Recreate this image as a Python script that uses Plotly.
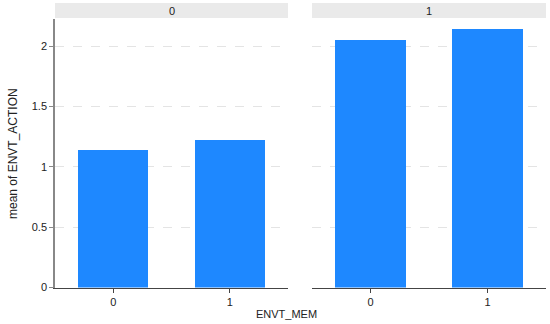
import plotly.graph_objects as go

categories = ["0", "1"]
panels = ["0", "1"]
values_panel0 = [1.138, 1.221]
values_panel1 = [2.056, 2.139]
y_ticks = [0, 0.5, 1, 1.5, 2]
y_tick_labels = ["0", "0.5", "1", "1.5", "2"]

W, H = 550, 324
bar_color = "#1E88FF"
font = dict(family="Liberation Sans, Arial, sans-serif", size=11, color="#222222")

fig = go.Figure()
fig.add_trace(go.Bar(x=[0, 1], y=values_panel0, xaxis="x", yaxis="y",
                     marker=dict(color=bar_color, line=dict(width=0)), width=0.6))
fig.add_trace(go.Bar(x=[0, 1], y=values_panel1, xaxis="x2", yaxis="y2",
                     marker=dict(color=bar_color, line=dict(width=0)), width=0.6))

left_dom = [55 / W, 288 / W]
right_dom = [312 / W, 546 / W]
y_dom = [1 - 287.5 / H, 1 - 19 / H]
yrange = [0, 2.226]

xcommon = dict(range=[-0.5, 1.5], tickvals=[0, 1], ticktext=categories,
               showline=True, linecolor="#444444", linewidth=1.2, showgrid=False,
               ticks="outside", ticklen=4, tickcolor="#444444", zeroline=False,
               tickfont=font, automargin=False)
ycommon = dict(range=yrange, tickvals=y_ticks, ticktext=y_tick_labels,
               showgrid=True, gridcolor="#E4E4E4", griddash="dash", gridwidth=1,
               zeroline=False, tickfont=font, automargin=False)

fig.update_layout(
    width=W, height=H,
    margin=dict(l=0, r=0, t=0, b=0),
    paper_bgcolor="white", plot_bgcolor="white",
    showlegend=False, bargap=0,
    font=font,
    xaxis=dict(domain=left_dom, anchor="y", **xcommon),
    xaxis2=dict(domain=right_dom, anchor="y2", **xcommon),
    yaxis=dict(domain=y_dom, anchor="x", showline=True, linecolor="#888888",
               linewidth=1.5, ticks="outside", ticklen=4, tickcolor="#888888",
               showticklabels=True, **ycommon),
    yaxis2=dict(domain=y_dom, anchor="x2", showline=False, ticks="",
                showticklabels=False, **ycommon),
)

# facet header strips
for dom, label in zip([left_dom, right_dom], panels):
    fig.add_shape(type="rect", xref="paper", yref="paper",
                  x0=dom[0], x1=dom[1], y0=1 - 18 / H, y1=1 - 3 / H,
                  fillcolor="#EAEAEA", line=dict(width=0), layer="below")
    fig.add_annotation(x=(dom[0] + dom[1]) / 2, y=1 - 10.5 / H, xref="paper", yref="paper",
                       text=label, showarrow=False, font=font,
                       xanchor="center", yanchor="middle")

fig.add_annotation(x=286 / W, y=1 - 314 / H, xref="paper", yref="paper",
                   text="ENVT_MEM", showarrow=False, font=font,
                   xanchor="center", yanchor="middle")
fig.add_annotation(x=13 / W, y=1 - 154 / H, xref="paper", yref="paper",
                   text="mean of ENVT_ACTION", showarrow=False, textangle=-90,
                   font=dict(font, size=12), xanchor="center", yanchor="middle")

fig.write_html("out.html", config={"displayModeBar": False},
               post_script="document.body.style.margin='0';document.body.style.overflow='hidden';")
